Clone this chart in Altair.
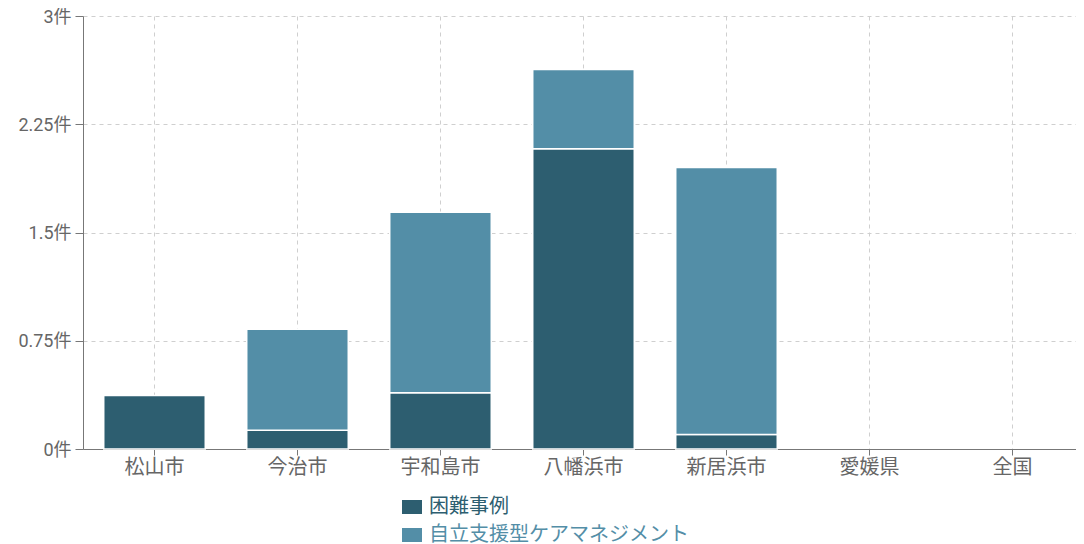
import altair as alt
import pandas as pd

categories = ["松山市", "今治市", "宇和島市", "八幡浜市", "新居浜市", "愛媛県", "全国"]
series_names = ["困難事例", "自立支援型ケアマネジメント"]
difficult = [0.37, 0.13, 0.39, 2.08, 0.10, 0.0, 0.0]
selfsupport = [0.0, 0.70, 1.25, 0.55, 1.85, 0.0, 0.0]
colors = ["#2d5e70", "#538ea7"]
y_ticks = [0, 0.75, 1.5, 2.25, 3]

rows = []
for i, c in enumerate(categories):
    rows.append({"area": c, "series": series_names[0], "value": difficult[i], "ord": 0})
    rows.append({"area": c, "series": series_names[1], "value": selfsupport[i], "ord": 1})
df = pd.DataFrame(rows)

font = "Roboto, 'Noto Sans CJK JP', sans-serif"

label_expr = f"datum.label == '{series_names[0]}' ? '{colors[0]}' : '{colors[1]}'"

chart = (
    alt.Chart(df)
    .transform_filter("datum.value > 0")
    .mark_bar(stroke="white", strokeWidth=1.5)
    .encode(
        x=alt.X(
            "area:N",
            scale=alt.Scale(domain=categories, paddingInner=0.29, paddingOuter=0.145,
                            range=[0, 1001]),
            axis=alt.Axis(
                title=None, labelAngle=0, grid=True, gridDash=[4, 4], gridColor="#cfcfcf",
                tickSize=6, tickColor="#777", domainColor="#777", labelColor="#666",
                labelFontSize=20, labelFont=font, labelPadding=2,
            ),
            sort=categories,
        ),
        y=alt.Y(
            "value:Q",
            stack="zero",
            scale=alt.Scale(domain=[0, 3], nice=False),
            axis=alt.Axis(
                title=None, values=y_ticks, labelExpr="datum.value + '件'",
                grid=True, gridDash=[4, 4], gridColor="#cfcfcf",
                tickSize=8, tickColor="#777", domainColor="#777", labelColor="#666",
                labelFontSize=18, labelFont=font, labelPadding=4, labelOffset=1,
            ),
        ),
        color=alt.Color(
            "series:N",
            scale=alt.Scale(domain=series_names, range=colors),
            legend=alt.Legend(
                title=None, orient="none", legendX=319, legendY=481, direction="vertical",
                symbolType="M-1.43,-1H1.43V1H-1.43Z", symbolSize=196, symbolStrokeWidth=0,
                symbolOpacity=1, labelFontSize=20, labelFont=font, labelOffset=7,
                labelLimit=0,
                labelColor=alt.ExprRef(expr=label_expr), rowPadding=8, padding=0,
            ),
        ),
        order=alt.Order("ord:Q", sort="ascending"),
    )
    .properties(
        width=993,
        height=433,
        autosize=alt.AutoSizeParams(type="none"),
        padding={"left": 75, "top": 8, "right": 0, "bottom": 95},
    )
    .configure_view(stroke=None)
)

chart.save("out.html", embed_options={"renderer": "svg", "actions": False})
